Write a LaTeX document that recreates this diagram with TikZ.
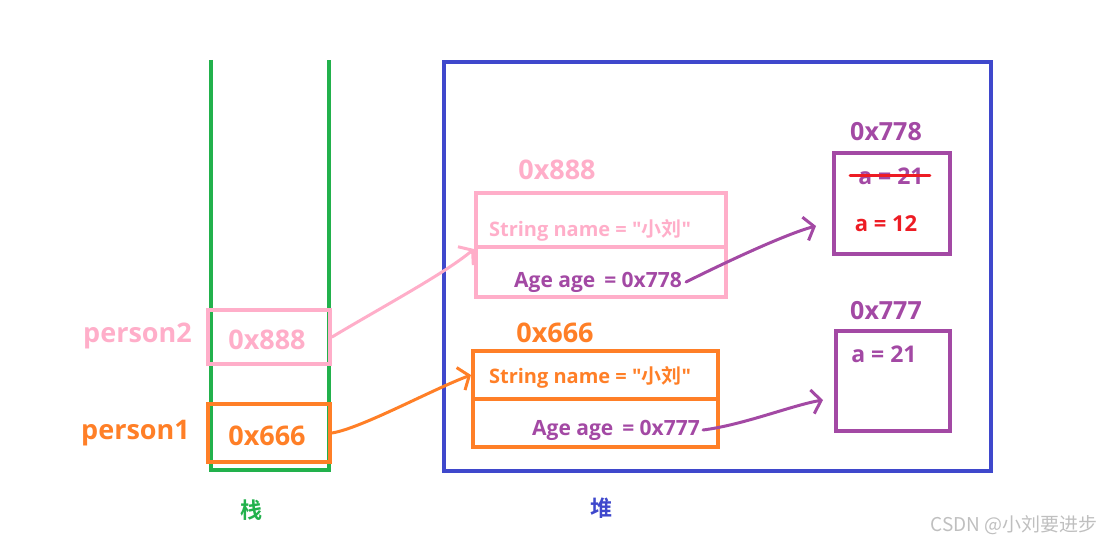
\documentclass[tikz,border=0pt]{standalone}
\usepackage{fontspec}
\setmainfont{Open Sans}[Ligatures=TeXOff]
\newfontfamily\cjk{Noto Sans CJK SC}[BoldFont={Noto Sans CJK SC Bold}]
\usetikzlibrary{arrows.meta,positioning}
\definecolor{stackgreen}{HTML}{22B14C}
\definecolor{heapblue}{HTML}{3F48CC}
\definecolor{pinkc}{HTML}{FFAEC9}
\definecolor{orangec}{HTML}{FF7F27}
\definecolor{purplec}{HTML}{A349A4}
\definecolor{redc}{HTML}{ED1C24}
\begin{document}
\begin{tikzpicture}[x=1pt,y=-1pt,line cap=round,line join=round,
  cell/.style={draw=#1,line width=4pt,inner sep=0pt,line cap=butt,line join=miter},
  lbl/.style={text=#1,font=\bfseries\fontsize{27}{30}\selectfont,inner sep=0pt},
  txt/.style={text=#1,font=\bfseries\fontsize{20}{24}\selectfont,inner sep=0pt},
  ptr/.style={draw=#1,line width=3pt,-{Straight Barb[length=9pt,width=24pt]}}]
\path[use as bounding box] (0,0) rectangle (1103,545);
% stack and heap
\draw[draw=stackgreen,line width=4pt,line cap=butt,line join=miter] (211,60) -- (211,470) -- (329,470) -- (329,60);
\draw[draw=heapblue,line width=4pt,line join=miter] (444,62) rectangle (991,471);
\node[lbl=stackgreen,font=\cjk\bfseries\fontsize{22}{24}\selectfont] (stk) at (251,510) {栈};
\node[lbl=heapblue,font=\cjk\bfseries\fontsize{22}{24}\selectfont] (hp) at (601,508) {堆};
% stack variables
\node[cell=pinkc,minimum width=122pt,minimum height=54pt] (p2) at (269,337) {};
\node[lbl=pinkc] (p2val) at (267,340) {0x888};
\node[lbl=pinkc,anchor=east] (p2name) at (192,336) {person2};
\node[cell=orangec,minimum width=122pt,minimum height=58pt] (p1) at (269,433) {};
\node[lbl=orangec] (p1val) at (267,436) {0x666};
\node[lbl=orangec,anchor=east] (p1name) at (190,433) {person1};
% object 0x888
\node[cell=pinkc,minimum width=250pt,minimum height=54pt] (o888name) at (601,220) {};
\node[cell=pinkc,minimum width=250pt,minimum height=50pt] (o888age) at (601,272) {};
\node[lbl=pinkc] (o888) at (557,170) {0x888};
\node[txt=pinkc] (name888) at (590,230) {String name = "{\cjk 小刘}"};
\node[txt=purplec,font=\bfseries\fontsize{21}{24}\selectfont] (age778) at (598,282) {Age age \,= 0x778};
% object 0x666
\node[cell=orangec,minimum width=245pt,minimum height=48pt] (o666name) at (595.5,375) {};
\node[cell=orangec,minimum width=245pt,minimum height=48pt] (o666age) at (595.5,423) {};
\node[lbl=orangec] (o666) at (555,333) {0x666};
\node[txt=orangec] (name666) at (590,377) {String name = "{\cjk 小刘}"};
\node[txt=purplec,font=\bfseries\fontsize{21}{24}\selectfont] (age777) at (616,430) {Age age \,= 0x777};
% age objects
\node[cell=purplec,minimum width=116pt,minimum height=101pt] (b778) at (892,203.5) {};
\node[lbl=purplec,font=\bfseries\fontsize{25}{28}\selectfont] (l778) at (886,132) {0x778};
\node[lbl=purplec,font=\bfseries\fontsize{23}{26}\selectfont] (a21old) at (891,176) {a = 21};
\node[lbl=redc,font=\bfseries\fontsize{22}{26}\selectfont] (a12) at (886,224) {a = 12};
\draw[draw=redc,line width=3pt,shorten <=-8pt,shorten >=-6pt] (a21old.west) -- (a21old.east);
\node[cell=purplec,minimum width=114pt,minimum height=100pt] (b777) at (893,381) {};
\node[lbl=purplec,font=\bfseries\fontsize{25}{28}\selectfont] (l777) at (886,311) {0x777};
\node[lbl=purplec,font=\bfseries\fontsize{23}{26}\selectfont] (a21) at (884,354) {a = 21};
% pointers
\coordinate (tip778) at (816,226);
\coordinate (tip777) at (823,400);
\draw[ptr=pinkc] (p2.east) .. controls +(50,-30) and +(-30,25) .. (o888name.south west);
\draw[ptr=orangec] (p1.east) .. controls +(30,-5) and +(-40,15) .. (o666name.west);
\draw[ptr=purplec] ([xshift=4pt]age778.east) .. controls +(40,-20) and +(-30,8) .. (tip778);
\draw[ptr=purplec] ([xshift=3pt]age777.east) .. controls +(40,-5) and +(-30,5) .. (tip777);
% watermark
\node[text=black!25,font=\cjk\fontsize{19}{22}\selectfont,anchor=east,inner sep=0pt] (wm) at (1098,525) {CSDN @小刘要进步};
\end{tikzpicture}
\end{document}
